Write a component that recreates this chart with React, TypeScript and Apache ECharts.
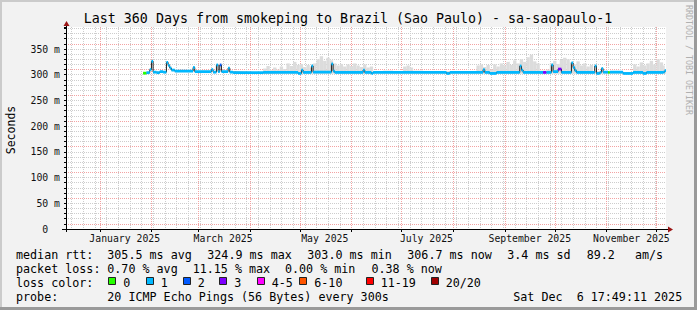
import React, { useEffect, useRef } from 'react';
import * as echarts from 'echarts';

const MONO = '"DejaVu Sans Mono", "Liberation Mono", monospace';

const TITLE = 'Last 360 Days from smokeping to Brazil (Sao Paulo) - sa-saopaulo-1';
const Y_AXIS_NAME = 'Seconds';
const WATERMARK = 'RRDTOOL / TOBI OETIKER';
const END_TIME = '2025-12-06T17:49:11Z';
const SPAN_DAYS = 360;
const Y_MAX = 392.8;

const Y_LABEL_VALUES = [0, 50, 100, 150, 200, 250, 300, 350];
const Y_LABEL_TEXTS = ['0', '50 m', '100 m', '150 m', '200 m', '250 m', '300 m', '350 m'];

const MONTH_STARTS = [
  '2025-01-01', '2025-02-01', '2025-03-01', '2025-04-01', '2025-05-01', '2025-06-01',
  '2025-07-01', '2025-08-01', '2025-09-01', '2025-10-01', '2025-11-01', '2025-12-01',
];
const FIRST_WEEK_LINE = '2024-12-15';
const X_LABEL_DATES = ['2025-01-16', '2025-03-16', '2025-05-16', '2025-07-16', '2025-09-16', '2025-11-16'];
const X_LABEL_TEXTS = ['January 2025', 'March 2025', 'May 2025', 'July 2025', 'September 2025', 'November 2025'];

const LOSS_LABELS = ['0', '1', '2', '3', '4-5', '6-10', '11-19', '20/20'];
const LOSS_COLORS = ['#26ff00', '#00b8ff', '#0059ff', '#7e00ff', '#ff00ff', '#ff5500', '#ff0000', '#a00000'];

// median rtt (ms) and loss bucket index (into LOSS_COLORS)
const MEDIAN_DATES = [
  '2025-01-27', '2025-01-29', '2025-01-31', '2025-02-01', '2025-02-02', '2025-02-04', '2025-02-06', '2025-02-08',
  '2025-02-10', '2025-02-11', '2025-02-12', '2025-02-13', '2025-02-15', '2025-02-26', '2025-02-27', '2025-03-09',
  '2025-03-10', '2025-03-12', '2025-03-13', '2025-03-14', '2025-03-15', '2025-03-19', '2025-03-20', '2025-03-22',
  '2025-04-09', '2025-04-30', '2025-05-02', '2025-05-03', '2025-05-08', '2025-05-09', '2025-05-20', '2025-05-21',
  '2025-05-22', '2025-06-08', '2025-06-09', '2025-06-13', '2025-06-14', '2025-07-28', '2025-07-30', '2025-08-19',
  '2025-08-20', '2025-08-23', '2025-08-27', '2025-09-10', '2025-09-11', '2025-09-12', '2025-09-24', '2025-09-26',
  '2025-09-29', '2025-09-30', '2025-10-03', '2025-10-05', '2025-10-11', '2025-10-12', '2025-10-13', '2025-10-14',
  '2025-10-25', '2025-10-26', '2025-10-28', '2025-10-29', '2025-10-30', '2025-11-02', '2025-11-03', '2025-11-11',
  '2025-11-17', '2025-11-23', '2025-11-25', '2025-12-05', '2025-12-06',
];
const MEDIAN_MS = [
  303, 304, 310, 326, 305, 304, 306, 305,
  324, 318, 313, 309, 307, 314, 306, 310,
  305, 319, 306, 319, 306, 313, 305, 304,
  304.5, 302.5, 309, 304.5, 317, 305, 321, 307,
  304.5, 309, 304.5, 302.5, 304.5, 302.5, 304.5, 310,
  304.5, 302.5, 304.5, 317, 309, 304.5, 304.5, 304.5,
  319, 306, 311, 304.5, 323, 314, 308, 304.5,
  317, 302.5, 304.5, 312, 305, 304.5, 305, 302.5,
  304.5, 302.5, 304.5, 305, 308,
];
const LOSS_BUCKET = [
  0, 1, 1, 1, 1, 1, 1, 1,
  1, 1, 1, 1, 1, 1, 1, 1,
  1, 1, 1, 2, 1, 1, 1, 1,
  1, 1, 1, 1, 1, 1, 1, 1,
  1, 1, 1, 1, 1, 1, 1, 1,
  1, 1, 1, 1, 1, 1, 3, 1,
  1, 1, 3, 1, 1, 1, 1, 1,
  1, 1, 1, 1, 1, 0, 1, 1,
  1, 1, 1, 1, 1,
];

// smoke (spread of the pings), upper edge in ms
const SMOKE_FLOOR = 302;
const SMOKE_DATES = [
  '2025-04-09', '2025-04-11', '2025-04-13', '2025-04-15', '2025-04-17', '2025-04-19', '2025-04-21', '2025-04-23',
  '2025-04-25', '2025-04-27', '2025-04-29', '2025-05-01', '2025-05-03', '2025-05-05', '2025-05-07', '2025-05-09',
  '2025-05-11', '2025-05-13', '2025-05-15', '2025-05-17', '2025-05-19', '2025-05-21', '2025-05-23', '2025-05-25',
  '2025-05-27', '2025-05-29', '2025-05-31', '2025-06-02', '2025-06-04', '2025-06-06', '2025-06-08', '2025-06-10',
  '2025-06-12', '2025-06-14', '2025-06-20', '2025-06-26', '2025-07-02', '2025-07-04', '2025-07-06', '2025-07-08',
  '2025-07-14', '2025-07-22', '2025-07-30', '2025-08-07', '2025-08-15', '2025-08-17', '2025-08-19', '2025-08-21',
  '2025-08-23', '2025-08-25', '2025-08-27', '2025-08-29', '2025-08-31', '2025-09-02', '2025-09-04', '2025-09-06',
  '2025-09-08', '2025-09-10', '2025-09-12', '2025-09-14', '2025-09-16', '2025-09-18', '2025-09-20', '2025-09-22',
  '2025-09-26', '2025-09-28', '2025-09-30', '2025-10-02', '2025-10-04', '2025-10-06', '2025-10-08', '2025-10-10',
  '2025-10-12', '2025-10-14', '2025-10-16', '2025-10-18', '2025-10-20', '2025-10-22', '2025-10-24', '2025-11-01',
  '2025-11-09', '2025-11-17', '2025-11-19', '2025-11-21', '2025-11-23', '2025-11-25', '2025-11-27', '2025-11-29',
  '2025-12-01', '2025-12-03', '2025-12-05', '2025-12-06',
];
const SMOKE_TOP = [
  312, 317, 309, 314, 310, 316, 311, 322,
  317, 325, 319, 321, 315, 319, 314, 322,
  330, 336, 327, 333, 328, 322, 318, 321,
  316, 320, 317, 322, 318, 315, 320, 314,
  316, 307, 308, 306, 316, 318, 314, 308,
  306, 307, 306, 307, 318, 320, 315, 319,
  310, 320, 316, 322, 318, 325, 319, 328,
  322, 330, 325, 334, 339, 326, 322, 308,
  310, 322, 327, 321, 329, 333, 330, 324,
  320, 326, 318, 322, 316, 319, 307, 306,
  305, 320, 316, 324, 318, 322, 327, 320,
  330, 324, 318, 310,
];

const STAT_LINE_1 = [
  ['median rtt:', 16], ['305.5 ms avg', 107.3], ['324.9 ms max', 207.3], ['303.0 ms min', 307.3],
  ['306.7 ms now', 407.3], ['3.4 ms sd', 507.3], ['89.2', 586.7], ['am/s', 635],
];
const STAT_LINE_2 = [
  ['packet loss:', 16], ['0.70 % avg', 107.3], ['11.15 % max', 192.7], ['0.00 % min', 285], ['0.38 % now', 371.5],
];
const PROBE_LABEL = 'probe:';
const PROBE_TEXT = '20 ICMP Echo Pings (56 Bytes) every 300s';
const STAMP_TEXT = 'Sat Dec  6 17:49:11 2025';
const LOSS_TITLE = 'loss color:';

const DAY = 86400000;
const ts = (s: string) => Date.parse(s.length === 10 ? s + 'T00:00:00Z' : s);

export default function App() {
  const ref = useRef<HTMLDivElement>(null);

  useEffect(() => {
    if (!ref.current) return;
    const chart = echarts.init(ref.current, undefined, { renderer: 'svg' });

    const xMax = ts(END_TIME);
    const xMin = xMax - SPAN_DAYS * DAY;

    const weekTicks: number[] = [];
    for (let t = ts(FIRST_WEEK_LINE); t < xMax; t += 7 * DAY) weekTicks.push(t);
    const monthTicks = MONTH_STARTS.map(ts);
    const labelTicks = X_LABEL_DATES.map(ts);
    const labelMap: Record<number, string> = {};
    labelTicks.forEach((t, i) => (labelMap[t] = X_LABEL_TEXTS[i]));

    const medianData = MEDIAN_DATES.map((d, i) => [ts(d), MEDIAN_MS[i]]);
    const strips = MEDIAN_DATES.map((d, i) => [
      ts(d),
      i + 1 < MEDIAN_DATES.length ? ts(MEDIAN_DATES[i + 1]) : xMax,
      MEDIAN_MS[i],
      LOSS_BUCKET[i],
    ]);
    const smoke = SMOKE_DATES.map((d, i) => [
      ts(d),
      i + 1 < SMOKE_DATES.length ? ts(SMOKE_DATES[i + 1]) : xMax,
      SMOKE_FLOOR,
      SMOKE_TOP[i],
    ]);

    const RED = '#f3a3a3';
    const GREY = '#cdcdcd';
    const textStyle = (size: number, fill = '#000') => ({ font: `${size}px ${MONO}`, fill });

    const graphic: any[] = [
      { type: 'rect', shape: { x: 0, y: 0, width: 697, height: 2 }, style: { fill: '#cbcbcb' }, silent: true },
      { type: 'rect', shape: { x: 0, y: 0, width: 2, height: 310 }, style: { fill: '#cbcbcb' }, silent: true },
      { type: 'rect', shape: { x: 0, y: 307, width: 697, height: 3 }, style: { fill: '#9a9a9a' }, silent: true },
      { type: 'rect', shape: { x: 694, y: 0, width: 3, height: 310 }, style: { fill: '#9a9a9a' }, silent: true },
      { type: 'line', shape: { x1: 66.5, y1: 24, x2: 66.5, y2: 232 }, style: { stroke: '#000', lineWidth: 1 }, z: 10 },
      { type: 'line', shape: { x1: 62, y1: 229.5, x2: 669, y2: 229.5 }, style: { stroke: '#000', lineWidth: 1 }, z: 10 },
      { type: 'polygon', shape: { points: [[63.5, 26], [66.5, 21], [69.5, 26]] }, style: { fill: '#9b1515' }, z: 10 },
      { type: 'polygon', shape: { points: [[668, 226.5], [673, 229.5], [668, 232.5]] }, style: { fill: '#9b1515' }, z: 10 },
      {
        type: 'text', x: 348, y: 18.8,
        style: { text: TITLE, ...textStyle(13.3), align: 'center', verticalAlign: 'middle', textAlign: 'center', textVerticalAlign: 'middle' },
      },
      {
        type: 'text', x: 10.5, y: 130, rotation: Math.PI / 2,
        style: { text: Y_AXIS_NAME, ...textStyle(11.5), align: 'center', verticalAlign: 'middle', textAlign: 'center', textVerticalAlign: 'middle' },
      },
      {
        type: 'text', x: 688.5, y: 60, rotation: -Math.PI / 2,
        style: { text: WATERMARK, ...textStyle(8.3, '#b0b0b0'), align: 'center', verticalAlign: 'middle', textAlign: 'center', textVerticalAlign: 'middle' },
      },
    ];

    const addText = (text: string, x: number, y: number) =>
      graphic.push({
        type: 'text', x, y,
        style: { text, ...textStyle(11.7), align: 'left', verticalAlign: 'middle', textAlign: 'left', textVerticalAlign: 'middle' },
      });

    STAT_LINE_1.forEach(([t, x]) => addText(t as string, x as number, 255));
    STAT_LINE_2.forEach(([t, x]) => addText(t as string, x as number, 269));
    addText(LOSS_TITLE, 16, 282.5);
    const boxX = [108.3, 145.7, 182.7, 219.3, 256.7, 299.3, 365.7, 430.7];
    LOSS_LABELS.forEach((lab, i) => {
      graphic.push({
        type: 'rect', shape: { x: Math.round(boxX[i]) + 0.5, y: 277.5, width: 7, height: 7 },
        style: { fill: LOSS_COLORS[i], stroke: '#222', lineWidth: 1 },
      });
      addText(lab, boxX[i] + 15, 282.5);
    });
    addText(PROBE_LABEL, 16, 296.5);
    addText(PROBE_TEXT, 107.3, 296.5);
    addText(STAMP_TEXT, 513.3, 296.5);

    const option: any = {
      animation: false,
      backgroundColor: '#f2f2f2',
      grid: { left: 66, top: 27, width: 600, height: 202, show: true, backgroundColor: '#ffffff', borderWidth: 0 },
      xAxis: [
        {
          type: 'value', min: xMin, max: xMax, position: 'bottom', scale: true,
          axisLine: { show: false },
          axisTick: { show: false, customValues: weekTicks },
          axisLabel: { show: false },
          splitLine: { show: true, lineStyle: { color: GREY, type: [1, 1], width: 1 } },
        },
        {
          type: 'value', min: xMin, max: xMax, position: 'bottom', scale: true,
          axisLine: { show: false },
          axisTick: { show: true, customValues: monthTicks, length: 3, lineStyle: { color: '#000' } },
          axisLabel: {
            show: true, customValues: labelTicks,
            formatter: (v: number) => labelMap[v] ?? '',
            fontFamily: MONO, fontSize: 9.8, color: '#111', margin: 4,
          },
          splitLine: { show: true, lineStyle: { color: RED, type: [1, 1], width: 1 } },
        },
      ],
      yAxis: {
        type: 'value', min: 0, max: Y_MAX, interval: 10,
        axisLine: { show: false },
        axisTick: { show: true, length: 2, lineStyle: { color: '#000' } },
        axisLabel: {
          customValues: Y_LABEL_VALUES,
          formatter: (v: number) => {
            const i = Y_LABEL_VALUES.indexOf(v);
            if (i < 0) return '';
            return v === 0 ? `{z|${Y_LABEL_TEXTS[i]}}` : Y_LABEL_TEXTS[i];
          },
          fontFamily: MONO, fontSize: 9.8, color: '#111', margin: 6,
          rich: { z: { fontFamily: MONO, fontSize: 9.8, color: '#111', padding: [0, 11.8, 0, 0] } },
        },
        splitLine: {
          show: true, showMinLine: false, showMaxLine: false,
          lineStyle: { color: [RED, GREY, GREY, GREY, GREY], type: [1, 1], width: 1 },
        },
      },
      series: [
        {
          type: 'custom', data: smoke, encode: { x: [0, 1], y: [2, 3] }, z: 1, silent: true,
          renderItem: (params: any, api: any) => {
            const a = api.coord([api.value(0), api.value(3)]);
            const b = api.coord([api.value(1), api.value(2)]);
            return {
              type: 'rect',
              shape: { x: a[0], y: a[1], width: b[0] - a[0], height: b[1] - a[1] },
              style: { fill: '#dcdcdc' },
            };
          },
        },
        {
          type: 'line', data: medianData, step: 'end', showSymbol: false, symbol: 'none',
          lineStyle: { color: '#202020', width: 1 }, z: 2, silent: true,
        },
        {
          type: 'custom', data: strips, encode: { x: [0, 1], y: 2 }, z: 3, silent: true,
          renderItem: (params: any, api: any) => {
            const a = api.coord([api.value(0), api.value(2)]);
            const b = api.coord([api.value(1), api.value(2)]);
            return {
              type: 'rect',
              shape: { x: a[0], y: a[1] - 1.4, width: Math.max(b[0] - a[0], 1), height: 2.8 },
              style: { fill: LOSS_COLORS[api.value(3)] },
            };
          },
        },
      ],
      graphic,
    };

    chart.setOption(option);
    return () => chart.dispose();
  }, []);

  return <div ref={ref} style={{ position: 'fixed', left: 0, top: 0, width: 697, height: 310 }} />;
}
